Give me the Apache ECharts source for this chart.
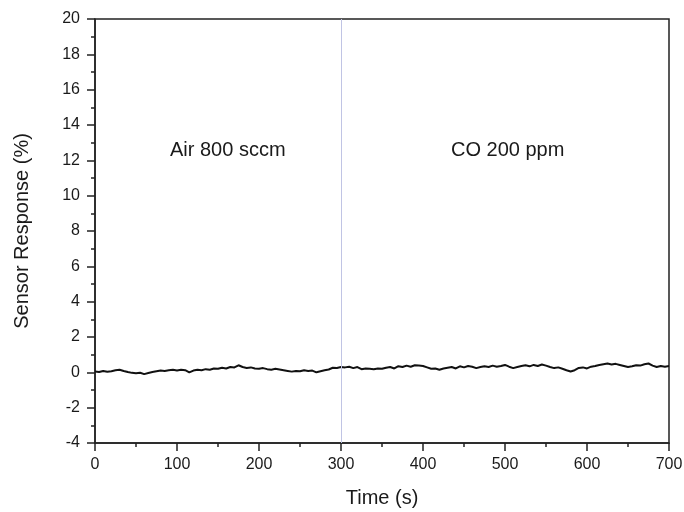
<!DOCTYPE html>
<html>
<head>
<meta charset="utf-8">
<script src="https://cdn.jsdelivr.net/npm/echarts@6/dist/echarts.min.js"></script>
<style>
  html, body { margin: 0; padding: 0; background: #fff; }
  #main { width: 684px; height: 512px; }
</style>
</head>
<body>
<div id="main"></div>
<script>
var dom = document.getElementById('main');
var myChart = echarts.init(dom, null, { renderer: 'canvas' });

let timeStep = 5;
let response = [
  0.05, 0.02, 0.08, 0.03, 0.06, 0.12, 0.15, 0.08, 0.02, -0.03,
  -0.05, -0.02, -0.10, -0.04, 0.02, 0.06, 0.10, 0.08, 0.12, 0.14,
  0.10, 0.15, 0.12, 0.00, 0.10, 0.15, 0.12, 0.18, 0.15, 0.22,
  0.20, 0.26, 0.22, 0.30, 0.28, 0.40, 0.30, 0.25, 0.28, 0.22,
  0.20, 0.24, 0.18, 0.15, 0.20, 0.16, 0.12, 0.08, 0.04, 0.08,
  0.06, 0.12, 0.08, 0.10, 0.00, 0.06, 0.12, 0.16, 0.26, 0.25,
  0.30, 0.28, 0.32, 0.24, 0.30, 0.18, 0.22, 0.20, 0.18, 0.22,
  0.20, 0.26, 0.30, 0.22, 0.35, 0.30, 0.38, 0.32, 0.40, 0.38,
  0.36, 0.28, 0.20, 0.22, 0.15, 0.22, 0.26, 0.30, 0.22, 0.34,
  0.28, 0.36, 0.32, 0.24, 0.30, 0.34, 0.30, 0.38, 0.32, 0.36,
  0.42, 0.32, 0.24, 0.30, 0.36, 0.40, 0.34, 0.42, 0.36, 0.44,
  0.38, 0.30, 0.24, 0.28, 0.20, 0.12, 0.05, 0.12, 0.25, 0.28,
  0.22, 0.32, 0.36, 0.42, 0.46, 0.50, 0.44, 0.48, 0.42, 0.36,
  0.30, 0.34, 0.40, 0.38, 0.46, 0.50, 0.38, 0.30, 0.36, 0.32,
  0.36
];
let switchTime = 300;
let phaseLabels = ['Air 800 sccm', 'CO 200 ppm'];

let font = 'Liberation Sans';
let ink = '#1a1a1a';

var option = {
  animation: false,
  grid: {
    left: 95,
    right: 15,
    top: 19,
    bottom: 69,
    outerBoundsMode: 'none',
    show: true,
    borderColor: '#222',
    borderWidth: 1.5
  },
  xAxis: {
    type: 'value',
    min: 0,
    max: 700,
    interval: 100,
    name: 'Time (s)',
    nameLocation: 'middle',
    nameGap: 45,
    nameTextStyle: { fontFamily: font, fontSize: 20, color: ink },
    axisLine: { onZero: false, lineStyle: { color: '#222', width: 1.5 } },
    axisTick: { inside: false, length: 8, lineStyle: { color: '#222', width: 1.5 } },
    minorTick: { show: true, splitNumber: 2, length: 4, lineStyle: { color: '#222', width: 1.5 } },
    axisLabel: { fontFamily: font, fontSize: 16, color: ink, margin: 14 },
    splitLine: { show: false }
  },
  yAxis: {
    type: 'value',
    min: -4,
    max: 20,
    interval: 2,
    name: 'Sensor Response (%)',
    nameLocation: 'middle',
    nameGap: 63,
    nameTextStyle: { fontFamily: font, fontSize: 20, color: ink },
    axisLine: { onZero: false, lineStyle: { color: '#222', width: 1.5 } },
    axisTick: { inside: false, length: 8, lineStyle: { color: '#222', width: 1.5 } },
    minorTick: { show: true, splitNumber: 2, length: 4, lineStyle: { color: '#222', width: 1.5 } },
    axisLabel: { fontFamily: font, fontSize: 16, color: ink, margin: 15 },
    splitLine: { show: false }
  },
  graphic: [
    {
      type: 'text',
      left: 170,
      top: 140,
      style: { text: phaseLabels[0], fontFamily: font, fontSize: 20, fill: ink }
    },
    {
      type: 'text',
      left: 451,
      top: 140,
      style: { text: phaseLabels[1], fontFamily: font, fontSize: 20, fill: ink }
    }
  ],
  series: [
    {
      type: 'line',
      showSymbol: false,
      lineStyle: { color: '#111', width: 2 },
      data: response.map((v, i) => [i * timeStep, v]),
      markLine: {
        silent: true,
        symbol: 'none',
        label: { show: false },
        lineStyle: { color: '#c0c4e4', width: 1, type: 'solid' },
        data: [{ xAxis: switchTime }]
      }
    }
  ]
};

myChart.setOption(option);
window.addEventListener('resize', myChart.resize);
</script>
</body>
</html>
